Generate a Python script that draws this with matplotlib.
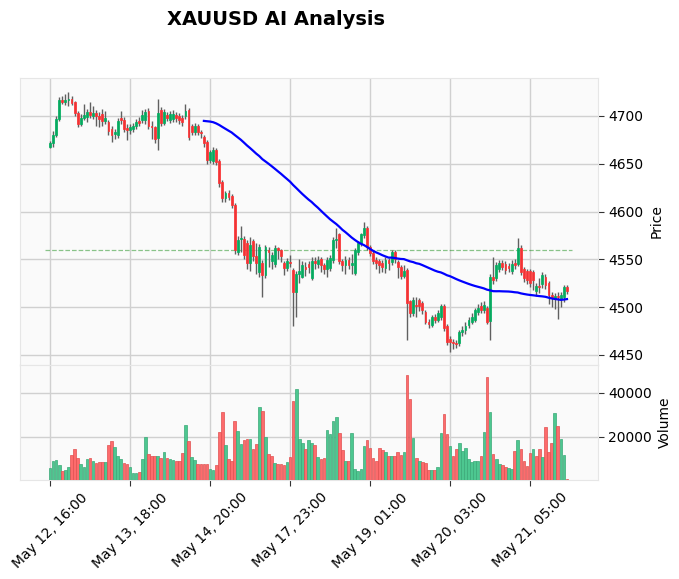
import numpy as np
import matplotlib
matplotlib.use("Agg")
import matplotlib.pyplot as plt

title = "XAUUSD AI Analysis"
tick_labels = ["May 12, 16:00", "May 13, 18:00", "May 14, 20:00", "May 17, 23:00",
               "May 19, 01:00", "May 20, 03:00", "May 21, 05:00"]
tick_step = 26
mav_window = 51
hline_level = 4560

opens = [4668, 4672, 4680, 4697, 4717, 4715, 4717, 4718, 4715, 4703,
         4692, 4698, 4699, 4704, 4700, 4703, 4700, 4702, 4695, 4694,
         4686, 4681, 4680, 4698, 4696, 4687, 4685, 4686, 4689, 4695,
         4696, 4696, 4705, 4690, 4688, 4677, 4706, 4693, 4701, 4696,
         4697, 4701, 4700, 4698, 4700, 4706, 4690, 4683, 4690, 4683,
         4678, 4673, 4654, 4653, 4664, 4653, 4631, 4614, 4619, 4616,
         4607, 4558, 4571, 4571, 4567, 4546, 4569, 4553, 4537, 4546,
         4534, 4560, 4548, 4545, 4562, 4560, 4546, 4541, 4547, 4539,
         4516, 4535, 4532, 4542, 4545, 4531, 4548, 4545, 4550, 4544,
         4540, 4541, 4549, 4570, 4576, 4548, 4544, 4549, 4544, 4536,
         4558, 4567, 4575, 4583, 4563, 4557, 4549, 4548, 4546, 4541,
         4549, 4547, 4558, 4547, 4542, 4533, 4539, 4506, 4494, 4502,
         4508, 4504, 4495, 4485, 4481, 4490, 4487, 4490, 4501, 4480,
         4467, 4464, 4463, 4462, 4474, 4476, 4481, 4485, 4487, 4495,
         4501, 4497, 4499, 4486, 4532, 4530, 4540, 4546, 4545, 4543,
         4538, 4546, 4545, 4562, 4540, 4538, 4538, 4537, 4517, 4522,
         4524, 4532, 4525, 4513, 4510, 4512, 4509, 4511, 4521]
closes = [4672, 4680, 4697, 4717, 4715, 4717, 4718, 4714, 4703, 4692,
          4698, 4701, 4704, 4701, 4703, 4700, 4697, 4695, 4698, 4684,
          4680, 4683, 4695, 4696, 4686, 4685, 4688, 4689, 4694, 4693,
          4701, 4704, 4689, 4688, 4676, 4703, 4693, 4704, 4698, 4702,
          4702, 4698, 4696, 4694, 4705, 4678, 4683, 4690, 4683, 4682,
          4672, 4654, 4662, 4664, 4652, 4630, 4614, 4619, 4615, 4607,
          4560, 4570, 4572, 4555, 4546, 4565, 4553, 4546, 4563, 4534,
          4563, 4558, 4555, 4562, 4560, 4553, 4541, 4548, 4546, 4516,
          4535, 4538, 4544, 4540, 4542, 4548, 4546, 4549, 4544, 4540,
          4549, 4551, 4570, 4571, 4548, 4544, 4549, 4544, 4546, 4560,
          4567, 4576, 4583, 4563, 4557, 4548, 4546, 4544, 4542, 4549,
          4546, 4558, 4550, 4542, 4533, 4538, 4504, 4494, 4508, 4501,
          4501, 4497, 4485, 4482, 4490, 4487, 4494, 4501, 4478, 4464,
          4464, 4462, 4461, 4474, 4476, 4480, 4487, 4490, 4497, 4499,
          4497, 4502, 4485, 4532, 4528, 4544, 4546, 4542, 4539, 4541,
          4545, 4544, 4562, 4537, 4530, 4528, 4525, 4528, 4522, 4521,
          4534, 4523, 4513, 4510, 4512, 4511, 4513, 4521, 4517]
highs = [4674, 4684, 4700, 4720, 4721, 4723, 4725, 4721, 4716, 4705,
         4702, 4712, 4707, 4715, 4710, 4706, 4704, 4707, 4705, 4696,
         4689, 4686, 4698, 4705, 4699, 4692, 4692, 4693, 4697, 4699,
         4706, 4707, 4708, 4695, 4690, 4718, 4709, 4707, 4704, 4705,
         4706, 4704, 4703, 4701, 4712, 4708, 4692, 4693, 4692, 4685,
         4680, 4675, 4664, 4667, 4666, 4655, 4633, 4622, 4623, 4618,
         4609, 4574, 4585, 4574, 4570, 4573, 4571, 4567, 4566, 4549,
         4565, 4563, 4558, 4565, 4563, 4561, 4548, 4551, 4555, 4541,
         4538, 4550, 4548, 4547, 4548, 4552, 4552, 4554, 4552, 4546,
         4552, 4555, 4573, 4583, 4578, 4550, 4553, 4552, 4556, 4562,
         4569, 4578, 4589, 4585, 4565, 4559, 4552, 4550, 4549, 4552,
         4551, 4560, 4560, 4549, 4544, 4544, 4541, 4508, 4511, 4511,
         4510, 4506, 4497, 4488, 4492, 4493, 4497, 4503, 4503, 4482,
         4470, 4467, 4466, 4476, 4480, 4484, 4490, 4494, 4499, 4503,
         4505, 4506, 4501, 4535, 4552, 4547, 4549, 4549, 4548, 4546,
         4549, 4550, 4572, 4565, 4542, 4540, 4540, 4539, 4525, 4530,
         4537, 4535, 4527, 4516, 4515, 4516, 4516, 4523, 4523]
lows = [4666, 4668, 4678, 4695, 4712, 4711, 4710, 4711, 4700, 4688,
        4689, 4696, 4694, 4698, 4697, 4690, 4688, 4690, 4692, 4680,
        4673, 4676, 4677, 4692, 4683, 4675, 4681, 4683, 4686, 4690,
        4693, 4692, 4686, 4676, 4672, 4664, 4690, 4691, 4695, 4693,
        4694, 4694, 4692, 4690, 4697, 4675, 4680, 4680, 4680, 4677,
        4668, 4650, 4651, 4650, 4649, 4626, 4610, 4610, 4612, 4604,
        4556, 4555, 4558, 4550, 4540, 4538, 4548, 4535, 4532, 4511,
        4530, 4542, 4540, 4542, 4550, 4547, 4534, 4538, 4542, 4480,
        4490, 4525, 4530, 4533, 4536, 4528, 4540, 4541, 4537, 4535,
        4532, 4538, 4546, 4562, 4545, 4538, 4535, 4540, 4535, 4534,
        4555, 4564, 4572, 4560, 4553, 4545, 4540, 4536, 4537, 4536,
        4539, 4544, 4546, 4530, 4529, 4530, 4466, 4490, 4491, 4490,
        4496, 4493, 4482, 4478, 4479, 4483, 4484, 4487, 4475, 4460,
        4453, 4456, 4457, 4459, 4470, 4472, 4478, 4482, 4484, 4492,
        4494, 4494, 4482, 4466, 4524, 4527, 4537, 4539, 4535, 4537,
        4535, 4540, 4543, 4534, 4526, 4524, 4521, 4518, 4512, 4515,
        4520, 4519, 4503, 4500, 4498, 4488, 4500, 4505, 4514]
volumes = [5800, 9000, 9460, 7170, 4420, 4880, 6250, 11750, 14500, 10380,
           7630, 6250, 9920, 10380, 9000, 8090, 8550, 8550, 8550, 16330,
           18170, 15570, 11300, 9920, 8090, 7630, 6250, 3510, 3510, 3970,
           9920, 20000, 12210, 11300, 11300, 11300, 10380, 13130, 10380, 9920,
           9460, 9000, 9000, 12670, 25500, 18170, 11000, 9460, 7630, 7630,
           7630, 7630, 5340, 4880, 7170, 22290, 31450, 16330, 9920, 9000,
           27330, 22750, 16790, 18630, 19080, 19080, 14500, 16790, 33740, 31910,
           20000, 12210, 11300, 8090, 7630, 7630, 7170, 8550, 10840, 36490,
           41990, 19080, 17250, 14500, 18630, 17250, 16330, 10840, 9920, 10380,
           23210, 21370, 27330, 29160, 21830, 14040, 9000, 9000, 21830, 5340,
           4420, 5340, 15880, 18630, 14960, 10380, 9000, 14960, 14040, 13130,
           11300, 11300, 11300, 13130, 11750, 13130, 47940, 37410, 19540, 10380,
           9000, 8550, 8090, 4880, 4880, 4880, 6250, 21830, 30540, 21370,
           15880, 11300, 14500, 17250, 13590, 14960, 9920, 8550, 9000, 9000,
           11300, 22290, 47030, 31450, 12210, 9920, 7630, 7170, 6250, 5800,
           5340, 13590, 18630, 14500, 9000, 6710, 12670, 14500, 11300, 14500,
           10840, 24580, 13130, 17250, 31000, 25040, 19080, 11750, 800]

o = np.array(opens, float)
c = np.array(closes, float)
h = np.array(highs, float)
l = np.array(lows, float)
v = np.array(volumes, float)
n = len(c)
x = np.arange(n)

up_c, dn_c = "#00b060", "#fe3032"
vup_c, vdn_c = "#4dc790", "#fd6b6c"
face = "#fafafa"
grid_c = "#d0d0d0"

fig = plt.figure(figsize=(6.79, 5.79), dpi=100)
ax = fig.add_axes([0.0295, 0.3696, 0.8513, 0.4957])
axv = fig.add_axes([0.0295, 0.1710, 0.8513, 0.1986], sharex=ax)

for a in (ax, axv):
    a.set_facecolor(face)
    a.grid(True, color=grid_c, linewidth=1.0)
    a.set_axisbelow(True)
    for s in a.spines.values():
        s.set_color("#e6e6e6")
    a.yaxis.tick_right()
    a.yaxis.set_label_position("right")
    a.tick_params(axis="both", labelsize=10, length=4, color="#333333")

# candles
isup = c >= o
cols = np.where(isup, up_c, dn_c)
ax.vlines(x, l, h, color="#606060", linewidth=1.0, zorder=2)
body = np.where(np.abs(c - o) < 0.4, 0.4, c - o)
ax.bar(x, body, bottom=o, width=0.6, color=cols, edgecolor=cols,
       linewidth=0.6, alpha=0.9, zorder=3)

# moving average
ma = np.convolve(c, np.ones(mav_window) / mav_window, mode="valid")
ax.plot(x[mav_window - 1:], ma, color="blue", linewidth=1.6, zorder=4)

# horizontal line
ax.hlines(hline_level, -1.5, n + 0.5, colors="green", linestyles="--",
          linewidth=0.9, alpha=0.45, zorder=1)

ax.set_xlim(-9.75, 178.1)
ax.set_ylim(4439.5, 4739.7)
ax.set_yticks(np.arange(4450, 4701, 50))
ax.set_ylabel("Price", fontsize=10)
ax.tick_params(axis="x", bottom=False, labelbottom=False)

# volume (color by change vs previous close)
prev = np.concatenate([[o[0]], c[:-1]])
vcols = np.where(c >= prev, vup_c, vdn_c)
vedge = np.where(c >= prev, "#3aa877", "#e05050")
axv.bar(x, v, width=0.85, color=vcols, edgecolor=vedge, linewidth=0.5, zorder=3)
axv.set_ylim(450, 52700)
axv.set_yticks([20000, 40000])
axv.set_ylabel("Volume", fontsize=10)

ticks = np.arange(0, n, tick_step)[:len(tick_labels)]
axv.set_xticks(ticks)
axv.set_xticklabels(tick_labels, rotation=45, ha="center", fontsize=10)

fig.text(0.406, 0.967, title, ha="center", va="center", fontsize=14,
         fontweight="bold")

fig.savefig("out.png", dpi=100)
